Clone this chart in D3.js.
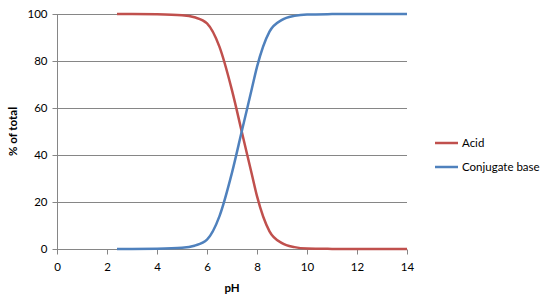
<!DOCTYPE html>
<html>
<head>
<meta charset="utf-8">
<script src="https://cdn.jsdelivr.net/npm/d3@7"></script>
<style>
  body { margin: 0; background: #fff; }
  svg text { font-family: Lato, "Open Sans", sans-serif; fill: #000; }
</style>
</head>
<body>
<div id="chart-container"></div>
<script>
// pH sample points and % of total for each species
const phValues = [2.4, 3, 4, 5, 5.5, 6, 6.5, 7, 7.4, 7.8, 8, 8.5, 9, 9.5, 10, 11, 12, 13, 14];
const acidValues = [100, 100, 99.9, 99.5, 98.6, 96, 86, 67.5, 49.5, 31.5, 22.5, 7.5, 2.5, 0.8, 0.2, 0.05, 0, 0, 0];
const baseValues = [0, 0, 0.1, 0.5, 1.4, 4, 14, 32.5, 50.5, 68.5, 77.5, 92.5, 97.5, 99.2, 99.8, 99.95, 100, 100, 100];
const seriesNames = ["Acid", "Conjugate base"];
const seriesColors = ["#C0504D", "#4F81BD"];
const xTicks = [0, 2, 4, 6, 8, 10, 12, 14];
const yTicks = [0, 20, 40, 60, 80, 100];

const width = 553, height = 300;
const plot = { left: 57, right: 407, top: 14, bottom: 249 };
const gridColor = "#868686";

const svg = d3.select("#chart-container")
  .append("svg")
  .attr("width", width)
  .attr("height", height);

const x = d3.scaleLinear().domain([0, 14]).range([plot.left, plot.right]);
const y = d3.scaleLinear().domain([0, 100]).range([plot.bottom, plot.top]);

// horizontal gridlines
svg.append("g")
  .selectAll("line")
  .data(yTicks.filter(d => d > 0))
  .join("line")
  .attr("x1", plot.left)
  .attr("x2", plot.right)
  .attr("y1", d => Math.round(y(d)) + 0.5)
  .attr("y2", d => Math.round(y(d)) + 0.5)
  .attr("stroke", gridColor)
  .attr("stroke-width", 1);

const yAxis = d3.axisLeft(y).tickValues(yTicks).tickSize(5).tickPadding(5);
const xAxis = d3.axisBottom(x).tickValues(xTicks).tickSize(5).tickPadding(8);

const gy = svg.append("g")
  .attr("transform", "translate(" + (plot.left + 0.5) + ",0)")
  .call(yAxis);
const gx = svg.append("g")
  .attr("transform", "translate(0," + (Math.round(plot.bottom) + 0.5) + ")")
  .call(xAxis);

[gx, gy].forEach(g => {
  g.selectAll("path, line").attr("stroke", gridColor);
  g.selectAll("text").style("font-size", "11.5px");
});
gx.select(".domain").attr("d", "M" + plot.left + ",0H" + plot.right);
gy.select(".domain").attr("d", "M0," + plot.bottom + "V" + plot.top);

// series lines
const line = d3.line()
  .curve(d3.curveMonotoneX)
  .x(d => x(d[0]))
  .y(d => y(d[1]));

[acidValues, baseValues].forEach((vals, i) => {
  svg.append("path")
    .datum(phValues.map((p, j) => [p, vals[j]]))
    .attr("fill", "none")
    .attr("stroke", seriesColors[i])
    .attr("stroke-width", 2.5)
    .attr("stroke-linejoin", "round")
    .attr("d", line);
});

// axis titles
svg.append("text")
  .attr("x", (plot.left + plot.right) / 2)
  .attr("y", 292)
  .attr("text-anchor", "middle")
  .style("font-size", "11.5px")
  .style("font-weight", "bold")
  .text("pH");

svg.append("text")
  .attr("transform", "translate(17," + (plot.top + plot.bottom) / 2 + ") rotate(-90)")
  .attr("text-anchor", "middle")
  .style("font-size", "11.5px")
  .style("font-weight", "bold")
  .text("% of total");

// legend
const legend = svg.append("g")
  .selectAll("g")
  .data(seriesNames)
  .join("g")
  .attr("transform", (d, i) => "translate(435," + (143 + i * 24) + ")");

legend.append("line")
  .attr("x1", 0)
  .attr("x2", 23)
  .attr("stroke", (d, i) => seriesColors[i])
  .attr("stroke-width", 2.5);

legend.append("text")
  .attr("x", 27)
  .attr("dy", "0.35em")
  .style("font-size", "11.5px")
  .text(d => d);
</script>
</body>
</html>
